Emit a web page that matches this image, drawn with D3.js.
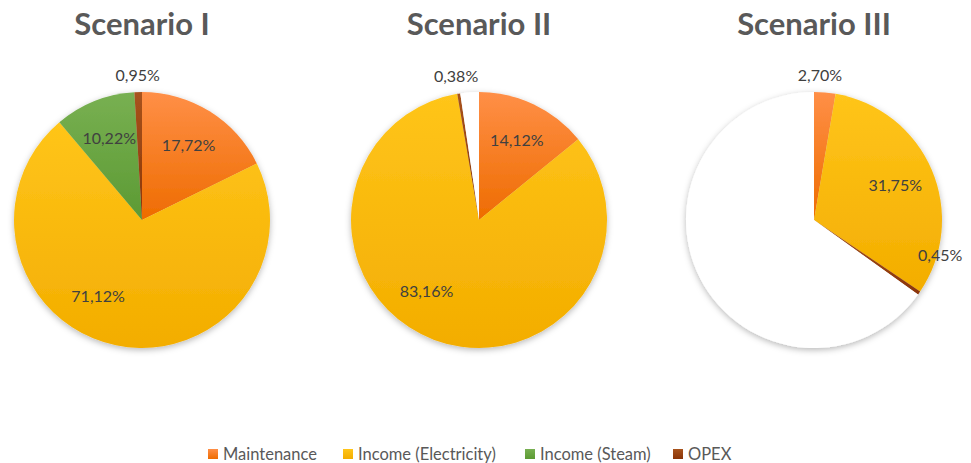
<!DOCTYPE html>
<html lang="en">
<head>
<meta charset="UTF-8">
<title>Scenario pies</title>
<script src="https://d3js.org/d3.v7.min.js"></script>
<style>
  body { margin: 0; background: #fff; }
  text { font-family: Lato, "Open Sans", sans-serif; }
</style>
</head>
<body>
<svg id="chart" width="971" height="463"></svg>
<script>
// data (percent)
var scenarios = ["Scenario I", "Scenario II", "Scenario III"];
var categories = ["Maintenance", "Income (Electricity)", "Income (Steam)", "OPEX"];
var maintenance = [17.72, 14.12, 2.70];
var electricity = [71.12, 83.16, 31.75];
var steam = [10.22, 0, 0];
var opex = [0.95, 0.38, 0.45];
var blank = [0, 2.34, 65.10]; // unlabelled white part of the pie

// colours: [top, bottom] of the excel style gradient
var colors = {
  "Maintenance": ["#ff8f47", "#ee6c00"],
  "Income (Electricity)": ["#ffc51a", "#f3ad00"],
  "Income (Steam)": ["#78b052", "#5c9a33"],
  "OPEX": ["#a8531c", "#8a3407"],
  "blank": ["#ffffff", "#ffffff"]
};

var svg = d3.select("#chart");
var centersX = [142, 479, 814];
var cy = 220, r = 128;

var defs = svg.append("defs");
Object.keys(colors).forEach(function(k, i) {
  var g = defs.append("linearGradient")
      .attr("id", "grad" + i)
      .attr("x1", 0).attr("y1", 0).attr("x2", 0).attr("y2", 1);
  g.append("stop").attr("offset", "0%").attr("stop-color", colors[k][0]);
  g.append("stop").attr("offset", "100%").attr("stop-color", colors[k][1]);
});
function gradFor(name) {
  return "url(#grad" + Object.keys(colors).indexOf(name) + ")";
}
var shadow = defs.append("filter").attr("id", "shadow")
    .attr("x", "-20%").attr("y", "-20%").attr("width", "140%").attr("height", "140%");
shadow.append("feDropShadow")
    .attr("dx", 0).attr("dy", 2).attr("stdDeviation", 3)
    .attr("flood-color", "#000").attr("flood-opacity", 0.28);

// label placement tweaks (excel "best fit" moves some labels): key -> [deg offset, radius]
var labelTweak = {
  "0-Income (Electricity)": [18, null],
  "1-Income (Electricity)": [16, null],
  "2-OPEX": [-19.3, r + 3],
  "2-Maintenance": [-2.5, null]
};

var pie = d3.pie().sort(null).value(function(d) { return d.value; });
var arc = d3.arc().innerRadius(0).outerRadius(r);

scenarios.forEach(function(name, s) {
  var rows = [
    {cat: "Maintenance", value: maintenance[s]},
    {cat: "Income (Electricity)", value: electricity[s]},
    {cat: "Income (Steam)", value: steam[s]},
    {cat: "OPEX", value: opex[s]},
    {cat: "blank", value: blank[s]}
  ];
  var g = svg.append("g").attr("transform", "translate(" + centersX[s] + "," + cy + ")");

  g.append("text")
      .attr("x", 0).attr("y", -185)
      .attr("text-anchor", "middle")
      .attr("font-size", 31).attr("font-weight", 700)
      .attr("fill", "#595959")
      .text(name);

  var arcs = pie(rows);
  var slices = g.append("g").attr("filter", "url(#shadow)");
  slices.selectAll("path")
    .data(arcs.filter(function(d) { return d.data.value > 0; }))
    .enter().append("path")
      .attr("d", arc)
      .attr("fill", function(d) { return gradFor(d.data.cat); });

  arcs.forEach(function(d) {
    if (d.data.value <= 0 || d.data.cat === "blank") return;
    var mid = (d.startAngle + d.endAngle) / 2;
    var outside = d.data.value < 3;
    var rr = outside ? r + 17 : r * 0.69;
    var tw = labelTweak[s + "-" + d.data.cat];
    if (tw) {
      mid += tw[0] * Math.PI / 180;
      if (tw[1]) rr = tw[1];
    }
    var x = rr * Math.sin(mid), y = -rr * Math.cos(mid);
    g.append("text")
        .attr("x", x).attr("y", y)
        .attr("dy", "0.35em")
        .attr("text-anchor", "middle")
        .attr("font-size", 16)
        .attr("fill", "#404040")
        .text(d.data.value.toFixed(2).replace(".", ",") + "%");
  });
});

// legend
var legendX = [208, 343, 525, 673];
var legend = svg.append("g").attr("transform", "translate(0,454)");
categories.forEach(function(c, i) {
  legend.append("rect")
      .attr("x", legendX[i]).attr("y", -5)
      .attr("width", 10).attr("height", 10)
      .attr("fill", gradFor(c));
  legend.append("text")
      .attr("x", legendX[i] + 15).attr("y", 0)
      .attr("dy", "0.35em")
      .attr("font-size", 16.5)
      .attr("fill", "#595959")
      .text(c);
});
</script>
</body>
</html>
